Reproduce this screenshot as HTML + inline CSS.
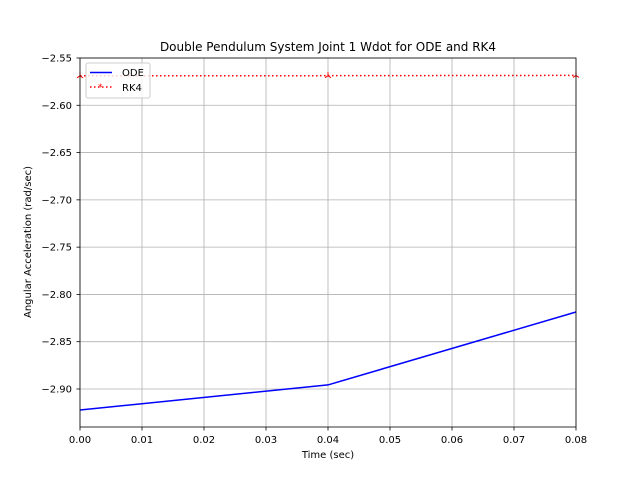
<!DOCTYPE html>
<html><head><meta charset="utf-8"><style>
body{margin:0;background:#fff;font-family:"Liberation Sans","DejaVu Sans",sans-serif}
svg text{font-family:"DejaVu Sans","Liberation Sans",sans-serif}
</style></head><body>
<svg id="chart" width="640" height="480" xmlns="http://www.w3.org/2000/svg">
<rect width="640" height="480" fill="#fff"/>
<g id="grid"></g><g id="series"></g><g id="axes"></g>
<text x="328" y="51" text-anchor="middle" font-size="12">Double Pendulum System Joint 1 Wdot for ODE and RK4</text>
<text x="328" y="458" text-anchor="middle" font-size="10">Time (sec)</text>
<text transform="translate(31,242) rotate(-90)" text-anchor="middle" font-size="10">Angular Acceleration (rad/sec)</text>
<g>
<rect x="86" y="63" width="64" height="35" rx="2" fill="#fff" fill-opacity="0.8" stroke="#ccc"/>
<line x1="90" y1="72.5" x2="112" y2="72.5" stroke="#0000ff" stroke-width="1.5"/>
<text x="122" y="76" font-size="10">ODE</text>
<line x1="90" y1="87" x2="112" y2="87" stroke="#ff0000" stroke-width="1.5" stroke-dasharray="1.5,2.5"/>
<text x="98" y="90" font-size="9" fill="#f00">*</text>
<text x="122" y="91" font-size="10">RK4</text>
</g>
</svg>
<script>
const times=[0,0.04,0.08];
const odeValues=[-2.9222,-2.8957,-2.8186];
const rk4Values=[-2.5688,-2.5687,-2.5684];
const xTicks=[0,0.01,0.02,0.03,0.04,0.05,0.06,0.07,0.08];
const yTicks=[-2.55,-2.60,-2.65,-2.70,-2.75,-2.80,-2.85,-2.90];
const L=80,R=576,T=58,B=427,xMin=0,xMax=0.08,yMax=-2.55,yMin=-2.9402;
const X=v=>L+(v-xMin)/(xMax-xMin)*(R-L);
const Y=v=>T+(yMax-v)/(yMax-yMin)*(B-T);
const NS="http://www.w3.org/2000/svg";
function mk(tag,attrs,parent){const e=document.createElementNS(NS,tag);for(const k in attrs)e.setAttribute(k,attrs[k]);parent.appendChild(e);return e;}
const grid=document.getElementById('grid'),axes=document.getElementById('axes'),series=document.getElementById('series');
xTicks.forEach(t=>{const x=X(t);
mk('line',{x1:x,y1:T,x2:x,y2:B,stroke:'#b0b0b0','stroke-width':0.8},grid);
mk('line',{x1:x,y1:B,x2:x,y2:B+3.5,stroke:'#000','stroke-width':0.8},axes);
const tx=mk('text',{x:x,y:B+16,'text-anchor':'middle','font-size':10},axes);tx.textContent=t.toFixed(2);

});
yTicks.forEach(t=>{const y=Y(t);
mk('line',{x1:L,y1:y,x2:R,y2:y,stroke:'#b0b0b0','stroke-width':0.8},grid);
mk('line',{x1:L-3.5,y1:y,x2:L,y2:y,stroke:'#000','stroke-width':0.8},axes);
const tx=mk('text',{x:L-8,y:y+3.5,'text-anchor':'end','font-size':10},axes);tx.textContent='\u2212'+Math.abs(t).toFixed(2);

});
const frame=mk('rect',{x:L,y:T,width:R-L,height:B-T,fill:'none',stroke:'#000','stroke-width':0.8},axes);


const ode=mk('polyline',{points:times.map((t,i)=>X(t)+','+Y(odeValues[i])).join(' '),fill:'none',stroke:'#0000ff','stroke-width':1.5},series);


const rk=mk('polyline',{points:times.map((t,i)=>X(t)+','+Y(rk4Values[i])).join(' '),fill:'none',stroke:'#ff0000','stroke-width':1.5,'stroke-dasharray':'1.5,2.5'},series);


times.forEach((t,i)=>{const x=X(t),y=Y(rk4Values[i]);
const g=mk('g',{stroke:'#ff0000','stroke-width':1},series);


mk('line',{x1:x,y1:y,x2:x,y2:y-3.5},g);mk('line',{x1:x,y1:y,x2:x-3,y2:y+2},g);mk('line',{x1:x,y1:y,x2:x+3,y2:y+2},g);});
</script>
</body></html>
